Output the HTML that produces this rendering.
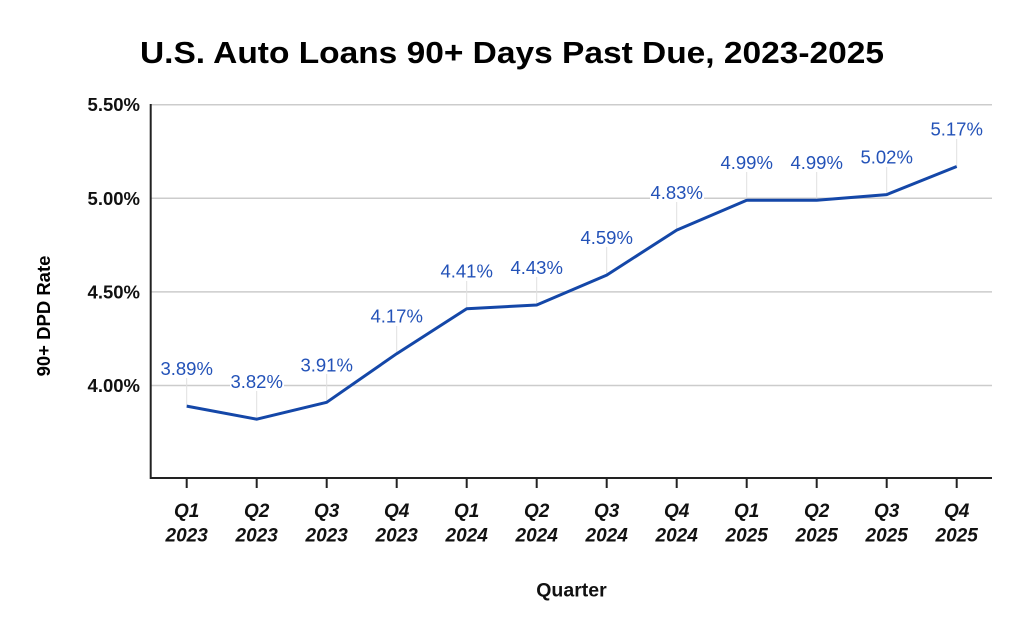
<!DOCTYPE html>
<html><head><meta charset="utf-8"><style>
html,body{margin:0;padding:0;background:#fff;}
svg{display:block;}
text{font-family:"Liberation Sans",Arial,sans-serif;}
</style></head><body>
<svg width="1024" height="633" viewBox="0 0 1024 633" xmlns="http://www.w3.org/2000/svg">
<rect width="1024" height="633" fill="#fff"/>
<text x="512" y="63" text-anchor="middle" font-size="31" font-weight="bold" fill="#000" textLength="744" lengthAdjust="spacingAndGlyphs">U.S. Auto Loans 90+ Days Past Due, 2023-2025</text>
<g stroke="#cccccc" stroke-width="1.5">
<line x1="151" y1="104.7" x2="992" y2="104.7"/>
<line x1="151" y1="198.3" x2="992" y2="198.3"/>
<line x1="151" y1="291.9" x2="992" y2="291.9"/>
<line x1="151" y1="385.5" x2="992" y2="385.5"/>
</g>
<g font-size="18.5" font-weight="bold" fill="#111" text-anchor="end">
<text x="140" y="111.2">5.50%</text>
<text x="140" y="204.8">5.00%</text>
<text x="140" y="298.4">4.50%</text>
<text x="140" y="392">4.00%</text>
</g>
<text transform="translate(50,316) rotate(-90)" text-anchor="middle" font-size="18.5" font-weight="bold" fill="#000">90+ DPD Rate</text>
<g stroke="#e0e0e0" stroke-width="1">
<line x1="186.7" y1="378" x2="186.7" y2="406"/>
<line x1="256.7" y1="391" x2="256.7" y2="419"/>
<line x1="326.7" y1="374" x2="326.7" y2="402"/>
<line x1="396.7" y1="326" x2="396.7" y2="354"/>
<line x1="466.7" y1="281" x2="466.7" y2="309"/>
<line x1="536.7" y1="277" x2="536.7" y2="305"/>
<line x1="606.7" y1="247" x2="606.7" y2="275"/>
<line x1="676.7" y1="202" x2="676.7" y2="230"/>
<line x1="746.7" y1="172" x2="746.7" y2="200"/>
<line x1="816.7" y1="172" x2="816.7" y2="200"/>
<line x1="886.7" y1="167" x2="886.7" y2="195"/>
<line x1="956.7" y1="139" x2="956.7" y2="167"/>
</g>
<polyline fill="none" stroke="#1447a8" stroke-width="3" stroke-linejoin="round" points="186.7,406.1 256.7,419.2 326.7,402.3 396.7,353.7 466.7,308.7 536.7,305 606.7,275.1 676.7,230.1 746.7,200.2 816.7,200.2 886.7,194.6 956.7,166.5"/>
<g fill="#fff">
<rect x="160" y="359" width="54" height="18"/>
<rect x="230" y="372" width="54" height="18"/>
<rect x="300" y="355" width="54" height="18"/>
<rect x="370" y="307" width="54" height="18"/>
<rect x="440" y="262" width="54" height="18"/>
<rect x="510" y="258" width="54" height="18"/>
<rect x="580" y="228" width="54" height="18"/>
<rect x="650" y="183" width="54" height="18"/>
<rect x="720" y="153" width="54" height="18"/>
<rect x="790" y="153" width="54" height="18"/>
<rect x="860" y="148" width="54" height="18"/>
<rect x="930" y="120" width="54" height="18"/>
</g>
<g font-size="18.5" fill="#2352b8" text-anchor="middle">
<text x="186.7" y="375">3.89%</text>
<text x="256.7" y="388.2">3.82%</text>
<text x="326.7" y="371.3">3.91%</text>
<text x="396.7" y="322.7">4.17%</text>
<text x="466.7" y="277.7">4.41%</text>
<text x="536.7" y="274">4.43%</text>
<text x="606.7" y="244.1">4.59%</text>
<text x="676.7" y="199.1">4.83%</text>
<text x="746.7" y="169.2">4.99%</text>
<text x="816.7" y="169.2">4.99%</text>
<text x="886.7" y="163.6">5.02%</text>
<text x="956.7" y="135.5">5.17%</text>
</g>
<g stroke="#222" stroke-width="2">
<line x1="150.7" y1="104" x2="150.7" y2="479"/>
<line x1="150" y1="478" x2="992" y2="478"/>
<line x1="186.7" y1="478" x2="186.7" y2="488"/>
<line x1="256.7" y1="478" x2="256.7" y2="488"/>
<line x1="326.7" y1="478" x2="326.7" y2="488"/>
<line x1="396.7" y1="478" x2="396.7" y2="488"/>
<line x1="466.7" y1="478" x2="466.7" y2="488"/>
<line x1="536.7" y1="478" x2="536.7" y2="488"/>
<line x1="606.7" y1="478" x2="606.7" y2="488"/>
<line x1="676.7" y1="478" x2="676.7" y2="488"/>
<line x1="746.7" y1="478" x2="746.7" y2="488"/>
<line x1="816.7" y1="478" x2="816.7" y2="488"/>
<line x1="886.7" y1="478" x2="886.7" y2="488"/>
<line x1="956.7" y1="478" x2="956.7" y2="488"/>
</g>
<g font-size="19" font-weight="bold" font-style="italic" fill="#111" text-anchor="middle">
<text x="186.7" y="517">Q1</text><text x="186.7" y="541.5">2023</text>
<text x="256.7" y="517">Q2</text><text x="256.7" y="541.5">2023</text>
<text x="326.7" y="517">Q3</text><text x="326.7" y="541.5">2023</text>
<text x="396.7" y="517">Q4</text><text x="396.7" y="541.5">2023</text>
<text x="466.7" y="517">Q1</text><text x="466.7" y="541.5">2024</text>
<text x="536.7" y="517">Q2</text><text x="536.7" y="541.5">2024</text>
<text x="606.7" y="517">Q3</text><text x="606.7" y="541.5">2024</text>
<text x="676.7" y="517">Q4</text><text x="676.7" y="541.5">2024</text>
<text x="746.7" y="517">Q1</text><text x="746.7" y="541.5">2025</text>
<text x="816.7" y="517">Q2</text><text x="816.7" y="541.5">2025</text>
<text x="886.7" y="517">Q3</text><text x="886.7" y="541.5">2025</text>
<text x="956.7" y="517">Q4</text><text x="956.7" y="541.5">2025</text>
</g>
<text x="571.5" y="596.5" text-anchor="middle" font-size="19.5" font-weight="bold" fill="#111">Quarter</text>
</svg>
</body></html>
